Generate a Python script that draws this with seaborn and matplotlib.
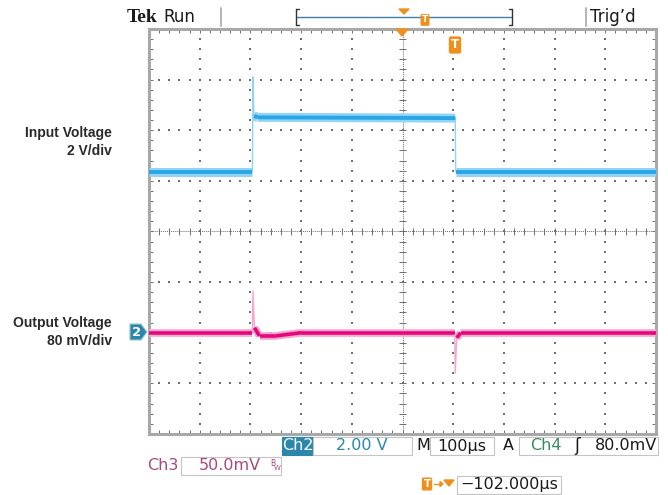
"""
Captura de osciloscopio: escalón de tensión de entrada y respuesta de la salida.
Redibujamos la pantalla Tek con seaborn/matplotlib.
"""

import numpy as np
import pandas as pd
import matplotlib.pyplot as plt
from matplotlib.lines import Line2D
from matplotlib.patches import Rectangle, Polygon
import seaborn as sns

IN_T = [0, 204, 205, 207, 215, 604, 605, 1000]
IN_V = [3.3, 3.3, 7.05, 5.5, 5.45, 5.42, 3.3, 3.3]          # voltios
OUT_T = [0, 204, 205, 208, 218, 250, 300, 603, 604, 607, 615, 1000]
OUT_MV = [0, 0, 66, 8, -5, -5, 0, 0, -64, -8, 0, 0]          # milivoltios

# Ajustes de canal (escala y posición en divisiones)
IN_VDIV, IN_POS = 2.0, -0.47
OUT_MVDIV, OUT_POS = 80.0, -2.0
T_DIV = 100.0

W, H = 668, 495
def fx(x):
    return x / W
def fy(y):
    return 1 - y / H

sns.set_theme(style="white")
plt.rcParams['font.family'] = ['DejaVu Sans']

fig = plt.figure(figsize=(W / 100, H / 100), dpi=100)
ax = fig.add_axes([fx(149), fy(434), 507 / W, 405 / H])
ax.set_xlim(0, 10 * T_DIV)
ax.set_ylim(-4, 4)
ax.set_xticks([])
ax.set_yticks([])
for s in ax.spines.values():
    s.set_color('#a8a8a8')
    s.set_linewidth(2.2)

# Retícula: puntos cada 0.2 div en las líneas principales
gc = '#6e6e6e'
ys = np.arange(-4, 4.001, 0.2)
xs = np.arange(0, 1000.1, 20)
for xv in np.arange(100, 1000, 100):
    if xv != 500:
        ax.scatter(np.full(len(ys), xv), ys, s=1.2, marker='s', color=gc, linewidths=0)
for yv in range(-3, 4):
    if yv != 0:
        ax.scatter(xs, np.full(len(xs), yv), s=1.2, marker='s', color=gc, linewidths=0)
ax.axhline(0, color=gc, lw=0.7, ls=(0, (1, 1)))
ax.axvline(500, color=gc, lw=0.7, ls=(0, (1, 1)))
ax.vlines(xs, -0.06, 0.06, color=gc, lw=0.7)
ax.hlines(ys, 494, 506, color=gc, lw=0.7)
ax.vlines(xs, -4, -3.93, color=gc, lw=0.7)
ax.vlines(xs, 3.93, 4, color=gc, lw=0.7)
ax.hlines(ys, 0, 7, color=gc, lw=0.7)
ax.hlines(ys, 993, 1000, color=gc, lw=0.7)

# Ejes gemelos con la escala de cada canal
ax_in = ax.twinx()
ax_in.set_ylim(IN_VDIV * (-4 - IN_POS), IN_VDIV * (4 - IN_POS))
ax_out = ax.twinx()
ax_out.set_ylim(OUT_MVDIV * (-4 - OUT_POS), OUT_MVDIV * (4 - OUT_POS))
for a in (ax_in, ax_out):
    a.set_xlim(0, 10 * T_DIV)
    a.set_yticks([])
    a.set_ylabel('')
    for s in a.spines.values():
        s.set_visible(False)

df_in = pd.DataFrame({'t': IN_T, 'v': IN_V})
df_out = pd.DataFrame({'t': OUT_T, 'v': OUT_MV})


def draw_trace(a, df, light, core, lw_light, lw_core):
    # flancos y picos finos, tramos asentados con banda de ruido
    sns.lineplot(data=df, x='t', y='v', ax=a, color=light, lw=1.0, legend=False,
                 sort=False, estimator=None)
    t = df['t'].to_numpy()
    v = df['v'].to_numpy()
    for i in range(len(t) - 1):
        if t[i + 1] - t[i] >= 6:
            a.plot(t[i:i + 2], v[i:i + 2], color=light, lw=lw_light,
                   solid_capstyle='butt')
            a.plot(t[i:i + 2], v[i:i + 2], color=core, lw=lw_core,
                   solid_capstyle='butt')
    a.set_xlabel('')
    a.set_ylabel('')


draw_trace(ax_in, df_in, '#93d4f5', '#28a6e6', 6.5, 2.8)
draw_trace(ax_out, df_out, '#f5a6cd', '#e4087f', 5.5, 2.6)
for a in (ax_in, ax_out):
    a.set_xticks([])
    a.set_yticks([])

orange = '#f0901c'

# Marcadores naranjas dentro de la pantalla
fig.add_artist(Polygon([[fx(396), fy(29)], [fx(408), fy(29)], [fx(402), fy(36)]],
                       closed=True, color=orange, transform=fig.transFigure))
fig.text(fx(455), fy(45), 'T', color='white', fontsize=8.5, fontweight='bold',
         ha='center', va='center',
         bbox=dict(boxstyle='round,pad=0.18', fc=orange, ec='none'))

# Cabecera
fig.text(fx(127), fy(17), 'Tek', fontsize=14, fontweight='bold',
         family='Liberation Serif', va='center', color='#1a1a1a')
fig.text(fx(163), fy(17), 'Run', fontsize=12, va='center', color='#1a1a1a')
fig.text(fx(590), fy(17), "Trig\u2019d", fontsize=12, va='center', color='#1a1a1a')
for xv in (221, 586):
    fig.add_artist(Line2D([fx(xv), fx(xv)], [fy(8), fy(26)], color='#b4b4b4', lw=1.4))
fig.add_artist(Line2D([fx(296), fx(512)], [fy(17), fy(17)], color='#3f7fa8', lw=1.0))
for xv, d in ((296, 3), (512, -3)):
    fig.add_artist(Line2D([fx(xv), fx(xv)], [fy(9), fy(25)], color='#333333', lw=1.0))
    fig.add_artist(Line2D([fx(xv), fx(xv + d)], [fy(9), fy(9)], color='#333333', lw=1.0))
    fig.add_artist(Line2D([fx(xv), fx(xv + d)], [fy(25), fy(25)], color='#333333', lw=1.0))
fig.add_artist(Polygon([[fx(399), fy(9)], [fx(409), fy(9)], [fx(404), fy(14)]],
                       closed=True, color=orange, transform=fig.transFigure))
fig.text(fx(425), fy(20), 'T', color='white', fontsize=6.5, fontweight='bold',
         ha='center', va='center',
         bbox=dict(boxstyle='round,pad=0.15', fc=orange, ec='none'))

# Etiquetas laterales
lab = dict(fontsize=10, fontweight='bold', ha='right', va='center',
           color='#2a2a2a', family='Liberation Sans')
fig.text(fx(112), fy(133), 'Input Voltage', **lab)
fig.text(fx(112), fy(151), '2 V/div', **lab)
fig.text(fx(112), fy(323), 'Output Voltage', **lab)
fig.text(fx(112), fy(341), '80 mV/div', **lab)

# Marcador del canal 2
teal = '#2b87ab'
fig.add_artist(Polygon([[fx(130), fy(324)], [fx(141), fy(324)], [fx(147), fy(332)],
                        [fx(141), fy(340)], [fx(130), fy(340)]],
                       closed=True, fc=teal, ec='#9cc4d6', lw=0.8,
                       transform=fig.transFigure))
fig.text(fx(137), fy(332), '2', color='white', fontsize=9.5, fontweight='bold',
         ha='center', va='center')


# Barra inferior de estado
def box(x0, x1, y0, y1, fc='white', ec='#c4c4c4'):
    fig.add_artist(Rectangle((fx(x0), fy(y1)), (x1 - x0) / W, (y1 - y0) / H,
                             fc=fc, ec=ec, lw=0.8, transform=fig.transFigure))


st = dict(fontsize=11.5, va='center')
box(282, 313, 437, 455, fc=teal, ec=teal)
fig.text(fx(297.5), fy(446), 'Ch2', color='white', ha='center', **st)
box(313, 412, 437, 455)
fig.text(fx(362), fy(446), '2.00 V', color=teal, ha='center', **st)
fig.text(fx(416), fy(446), 'M', color='#1a1a1a', **st)
box(430, 494, 437, 455)
fig.text(fx(462), fy(446), '100\u00b5s', color='#1a1a1a', ha='center', **st)
fig.text(fx(503), fy(446), 'A', color='#1a1a1a', **st)
box(519, 658, 437, 455)
fig.text(fx(530), fy(446), 'Ch4', color='#3a8a5c', **st)
fig.text(fx(574), fy(446), '\u0283', color='#1a1a1a', fontsize=12, va='center')
fig.text(fx(657), fy(446), '80.0mV', color='#1a1a1a', ha='right', **st)

mauve = '#a9487c'
fig.text(fx(147), fy(466), 'Ch3', color=mauve, **st)
box(181, 281, 457, 475)
fig.text(fx(230), fy(466), '50.0mV', color=mauve, ha='center', **st)
fig.text(fx(270), fy(463), 'B', color=mauve, fontsize=5.5, va='center')
fig.text(fx(274), fy(468), 'W', color=mauve, fontsize=5, va='center')

fig.text(fx(427), fy(484), 'T', color='white', fontsize=7.5, fontweight='bold',
         ha='center', va='center',
         bbox=dict(boxstyle='round,pad=0.15', fc=orange, ec='none'))
fig.add_artist(Line2D([fx(434), fx(441)], [fy(484), fy(484)], color=orange, lw=1.0))
fig.add_artist(Polygon([[fx(440), fy(481.5)], [fx(443), fy(484)], [fx(440), fy(486.5)]],
                       closed=True, color=orange, transform=fig.transFigure))
fig.add_artist(Polygon([[fx(444), fy(480)], [fx(454), fy(480)], [fx(449), fy(486)]],
                       closed=True, color=orange, transform=fig.transFigure))
box(457, 561, 476, 494)
fig.text(fx(509), fy(485), '\u2212102.000\u00b5s', color='#1a1a1a', ha='center', **st)

fig.savefig('out.png', dpi=100)
